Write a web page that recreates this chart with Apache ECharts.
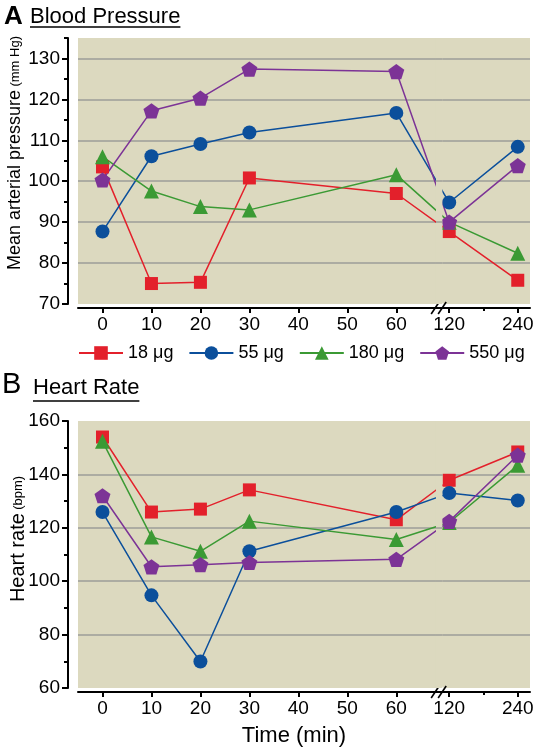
<!DOCTYPE html>
<html><head><meta charset="utf-8">
<script src="https://cdn.jsdelivr.net/npm/echarts@6/dist/echarts.min.js"></script>
<style>html,body{margin:0;padding:0;background:#fff}#c{width:537px;height:750px}</style>
</head><body><div id="c"></div>
<script>
// ---- data ----
const times = [0, 10, 20, 30, 60, 120, 240];
const seriesNames = ['18 μg', '55 μg', '180 μg', '550 μg'];
const bp18  = [103.5, 75.0, 75.3, 100.8, 97.0, 87.7, 75.8];
const bp55  = [87.7, 106.1, 109.1, 111.9, 116.7, 94.8, 108.4];
const bp180 = [106.0, 97.6, 93.8, 93.0, 101.6, 90.0, 82.4];
const bp550 = [100.3, 117.2, 120.3, 127.4, 126.8, 90.0, 103.8];
const hr18  = [154.0, 125.9, 127.0, 134.2, 123.0, 137.8, 148.4];
const hr55  = [125.9, 94.7, 69.9, 111.2, 125.9, 133.0, 130.2];
const hr180 = [152.4, 116.6, 111.2, 122.5, 115.6, 122.0, 143.4];
const hr550 = [132.0, 105.4, 106.2, 107.0, 108.2, 122.4, 147.2];
const xTickTimes  = [0, 10, 20, 30, 40, 50, 60, 120, 240];
const xTickLabels = ['0', '10', '20', '30', '40', '50', '60', '120', '240'];
const xMinorTimes = [180];
const bpTicks = [70, 80, 90, 100, 110, 120, 130];
const hrTicks = [60, 80, 100, 120, 140, 160];

// ---- broken time scale (piecewise linear) ----
function axisPos(t) {
  if (t <= 60) return t;
  if (t <= 120) return 60 + (t - 60) * 0.18;
  return 70.8 + (t - 120) * (14 / 120);
}
const X_MIN = -5, X_MAX = 87.3;
const BREAK_POS = 68.65, MASK_FROM = 68.1, MASK_TO = 69.4;

const FONT = '"Liberation Sans", Arial, Helvetica, sans-serif';
const BG = '#dcd9bf';
const GRIDC = '#9c9c98';
const colors = ['#e3202b', '#0b4f9b', '#3b9a34', '#7c3396'];
const pentagon = 'path://M0,-1 L0.951,-0.309 L0.588,0.809 L-0.588,0.809 L-0.951,-0.309 Z';
const symbols = ['rect', 'circle', 'triangle', pentagon];
const symSizes = [13, 14, 15, 16];

const grids = [
  { left: 78, right: 7, top: 38, height: 266, show: true, backgroundColor: BG, borderWidth: 0, containLabel: false, outerBoundsMode: 'none' },
  { left: 78, right: 7, top: 421, height: 267, show: true, backgroundColor: BG, borderWidth: 0, containLabel: false, outerBoundsMode: 'none' }
];

const xPos = xTickTimes.map(axisPos);
function xLabel(v) {
  for (let i = 0; i < xPos.length; i++) if (Math.abs(xPos[i] - v) < 0.01) return xTickLabels[i];
  return '';
}
function mkX(g, withName) {
  const main = {
    type: 'value', gridIndex: g, min: X_MIN, max: X_MAX, offset: 4, position: 'bottom',
    axisLine: { show: true, onZero: false, lineStyle: { color: '#000', width: 2 } },
    axisTick: { show: true, customValues: xPos, length: 5, lineStyle: { color: '#000', width: 2 } },
    axisLabel: { show: true, customValues: xPos, formatter: xLabel, fontSize: 19, fontFamily: FONT, color: '#000', margin: 7 },
    splitLine: { show: false }
  };
  if (withName) {
    main.name = 'Time (min)';
    main.nameLocation = 'middle';
    main.nameGap = 33;
    main.nameMoveOverlap = false;
    main.nameTextStyle = { fontSize: 22, fontFamily: FONT, color: '#000', padding: [0, 20, 0, 0] };
  }
  const minor = {
    type: 'value', gridIndex: g, min: X_MIN, max: X_MAX, offset: 4, position: 'bottom',
    axisLine: { show: false, onZero: false },
    axisTick: { show: true, customValues: xMinorTimes.map(axisPos), length: 3, lineStyle: { color: '#000', width: 2 } },
    axisLabel: { show: false }, splitLine: { show: false }
  };
  return [main, minor];
}
function mkY(g, min, max, interval, showMax, name, rich, pad, gap) {
  const main = {
    type: 'value', gridIndex: g, min: min, max: max, interval: interval, offset: 10, position: 'left',
    axisLine: { show: true, onZero: false, lineStyle: { color: '#000', width: 2 } },
    axisTick: { show: true, length: 6, lineStyle: { color: '#000', width: 2 } },
    axisLabel: { fontSize: 19, fontFamily: FONT, color: '#000', margin: 8, showMaxLabel: showMax },
    splitLine: { show: true, showMinLine: false, showMaxLine: false, lineStyle: { color: GRIDC, width: 1.5 } },
    name: name, nameLocation: 'middle', nameGap: gap, nameRotate: 90, nameMoveOverlap: false,
    nameTextStyle: { rich: rich, padding: pad }
  };
  const minor = {
    type: 'value', gridIndex: g, min: min, max: max, interval: interval / 2, offset: 10, position: 'left',
    axisLine: { show: false, onZero: false },
    axisTick: { show: true, length: 4, lineStyle: { color: '#000', width: 2 } },
    axisLabel: { show: false }, splitLine: { show: false }
  };
  return [main, minor];
}

const xAxes = [...mkX(0, false), ...mkX(1, true)];
const yAxes = [
  ...mkY(0, 70, 135, 10, false, '{a|Mean arterial pressure} {b|(mm Hg)}',
    { a: { fontSize: 18, fontFamily: FONT, color: '#000' }, b: { fontSize: 13, fontFamily: FONT, color: '#000' } }, [0, 0, 0, 36], 44),
  ...mkY(1, 60, 160, 20, true, '{a|Heart rate} {b|(bpm)}',
    { a: { fontSize: 20, fontFamily: FONT, color: '#000' }, b: { fontSize: 13, fontFamily: FONT, color: '#000' } }, [0, 0, 0, 31], 40)
];

const panels = [[bp18, bp55, bp180, bp550], [hr18, hr55, hr180, hr550]];
const series = [];
panels.forEach((vals, g) => {
  vals.forEach((arr, i) => {
    series.push({
      type: 'line', name: seriesNames[i], xAxisIndex: g * 2, yAxisIndex: g * 2,
      data: times.map((t, k) => [axisPos(t), arr[k]]),
      symbol: symbols[i], symbolSize: symSizes[i], symbolKeepAspect: true,
      itemStyle: { color: colors[i] }, lineStyle: { color: colors[i], width: 1.5 },
      z: 2, silent: true
    });
  });
  const gl = g === 0 ? bpTicks.slice(1) : hrTicks.slice(1, -1);
  series.push({
    type: 'line', xAxisIndex: g * 2, yAxisIndex: g * 2, data: [], silent: true,
    markArea: { silent: true, z: 3, itemStyle: { color: BG }, data: [[{ xAxis: MASK_FROM }, { xAxis: MASK_TO }]] },
    markLine: { silent: true, z: 4, symbol: 'none', label: { show: false },
      lineStyle: { color: GRIDC, width: 1.5, type: 'solid' },
      data: gl.map(v => [{ coord: [MASK_FROM, v] }, { coord: [MASK_TO, v] }]) }
  });
});

const chart = echarts.init(document.getElementById('c'), null, { renderer: 'canvas' });
chart.setOption({
  animation: false,
  grid: grids,
  xAxis: xAxes,
  yAxis: yAxes,
  legend: {
    data: seriesNames, left: 78, top: 344, padding: 0, itemGap: 15,
    itemWidth: 44, itemHeight: 17,
    textStyle: { fontSize: 18, fontFamily: FONT, color: '#000' }
  },
  series: series
});

// ---- titles and axis-break marks ----
const ctx = document.createElement('canvas').getContext('2d');
function tw(text, font) { ctx.font = font; return ctx.measureText(text).width; }
const tFont = '22px ' + FONT;
const wBP = tw('Blood Pressure', tFont), wHR = tw('Heart Rate', tFont);
const els = [
  { type: 'text', left: 4, top: 4, style: { text: 'A', font: 'bold 26px ' + FONT, fill: '#000' } },
  { type: 'text', left: 30, top: 6, style: { text: 'Blood Pressure', font: tFont, fill: '#000' } },
  { type: 'line', shape: { x1: 30, y1: 27, x2: 30 + wBP, y2: 27 }, style: { stroke: '#000', lineWidth: 1.5 } },
  { type: 'text', left: 2, top: 370, style: { text: 'B', font: '29px ' + FONT, fill: '#000' } },
  { type: 'text', left: 33, top: 377, style: { text: 'Heart Rate', font: tFont, fill: '#000' } },
  { type: 'line', shape: { x1: 33, y1: 401, x2: 33 + wHR, y2: 401 }, style: { stroke: '#000', lineWidth: 1.5 } }
];
[0, 1].forEach(g => {
  const bx = chart.convertToPixel({ xAxisIndex: g * 2 }, BREAK_POS);
  const ay = grids[g].top + grids[g].height + 4;
  els.push({ type: 'line', shape: { x1: bx - 4, y1: ay + 5, x2: bx + 4, y2: ay - 5 }, style: { stroke: '#fff', lineWidth: 5 } });
  els.push({ type: 'line', shape: { x1: bx - 7.5, y1: ay + 6, x2: bx + 0.5, y2: ay - 6 }, style: { stroke: '#000', lineWidth: 1.6 } });
  els.push({ type: 'line', shape: { x1: bx - 0.5, y1: ay + 6, x2: bx + 7.5, y2: ay - 6 }, style: { stroke: '#000', lineWidth: 1.6 } });
});
chart.setOption({ graphic: { elements: els } });
</script></body></html>
